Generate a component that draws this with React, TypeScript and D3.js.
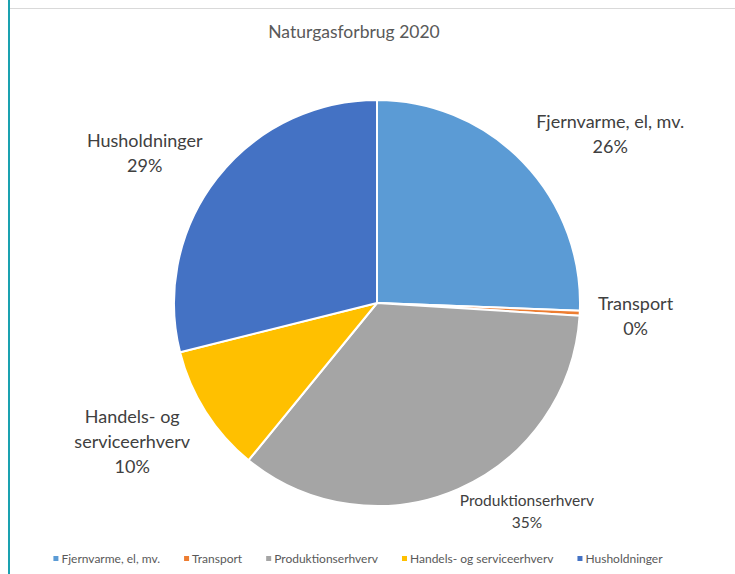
import React, { useEffect, useRef } from 'react'
import * as d3 from 'd3'

const categories = ['Fjernvarme, el, mv.', 'Transport', 'Produktionserhverv', 'Handels- og serviceerhverv', 'Husholdninger']
const values = [25.6, 0.4, 34.9, 10.2, 28.9]
const labelLines = [['Fjernvarme, el, mv.'], ['Transport'], ['Produktionserhverv'], ['Handels- og', 'serviceerhverv'], ['Husholdninger']]
const colors = ['#5B9BD5', '#ED7D31', '#A5A5A5', '#FFC000', '#4472C4']
const title = 'Naturgasforbrug 2020'

const W = 735
const H = 574
const FONT = 'Lato, "Open Sans", sans-serif'

export default function App() {
  const ref = useRef<SVGSVGElement>(null)

  useEffect(() => {
    document.body.style.margin = '0'
    const svg = d3.select(ref.current)
    svg.selectAll('*').remove()

    svg.append('rect').attr('width', W).attr('height', H).attr('fill', '#fff')
    // frame lines
    svg.append('line').attr('x1', 9).attr('x2', W).attr('y1', 8.5).attr('y2', 8.5)
      .attr('stroke', '#d9d9d9').attr('stroke-width', 1)
    svg.append('line').attr('x1', 9).attr('x2', 9).attr('y1', 0).attr('y2', H)
      .attr('stroke', '#1aa1b0').attr('stroke-width', 2)

    svg.append('text').attr('x', 354).attr('y', 38).attr('text-anchor', 'middle')
      .attr('font-family', FONT).attr('font-size', 17.5).attr('fill', '#595959').text(title)

    const cx = 377, cy = 303, r = 203
    const totals = d3.sum(values)
    const pie = d3.pie<number>().sort(null).value(d => d)
    const arcs = pie(values)
    const arc = d3.arc<d3.PieArcDatum<number>>().innerRadius(0).outerRadius(r)

    const g = svg.append('g').attr('transform', `translate(${cx},${cy})`)
    g.selectAll('path').data(arcs).enter().append('path')
      .attr('d', arc)
      .attr('fill', (_, i) => colors[i])
      .attr('stroke', '#fff').attr('stroke-width', 2).attr('stroke-linejoin', 'round')

    // data labels placed outside the slice
    arcs.forEach((a, i) => {
      const mid = (a.startAngle + a.endAngle) / 2
      const sin = Math.sin(mid), cos = Math.cos(mid)
      const gap = i === 2 ? 4 : 18
      const ex = (r + gap) * sin, ey = -(r + gap) * cos
      const size = i === 2 ? 15.5 : 18
      const lh = i === 2 ? 22 : 25
      const pct = Math.round((values[i] / totals) * 100) + '%'
      const lines = [...labelLines[i], pct]
      const t = g.append('text').attr('text-anchor', 'middle')
        .attr('font-family', FONT).attr('font-size', size).attr('fill', '#404040')
      lines.forEach((l, k) => {
        t.append('tspan').attr('x', 0).attr('y', k * lh).text(l)
      })
      const bb = (t.node() as SVGTextElement).getBBox()
      const lx = ex + Math.sign(sin) * bb.width / 2
      const ly = ey - cos * bb.height / 2
      const bcy = bb.y + bb.height / 2
      t.attr('transform', `translate(${lx},${ly - bcy})`)
    })

    // legend
    const lg = svg.append('g')
    let x = 0
    categories.forEach((c, i) => {
      const item = lg.append('g').attr('transform', `translate(${x},0)`)
      item.append('rect').attr('x', 0).attr('y', -3).attr('width', 5).attr('height', 5).attr('fill', colors[i])
      const t = item.append('text').attr('x', 8).attr('y', 0).attr('dy', '0.32em')
        .attr('font-family', FONT).attr('font-size', 12).attr('fill', '#595959').text(c)
      const w = (t.node() as SVGTextElement).getComputedTextLength()
      x += 8 + w + 24
    })
    const total = x - 24
    lg.attr('transform', `translate(${358 - total / 2},559)`)
  }, [])

  return <svg ref={ref} width={W} height={H} style={{ display: 'block' }} />
}
